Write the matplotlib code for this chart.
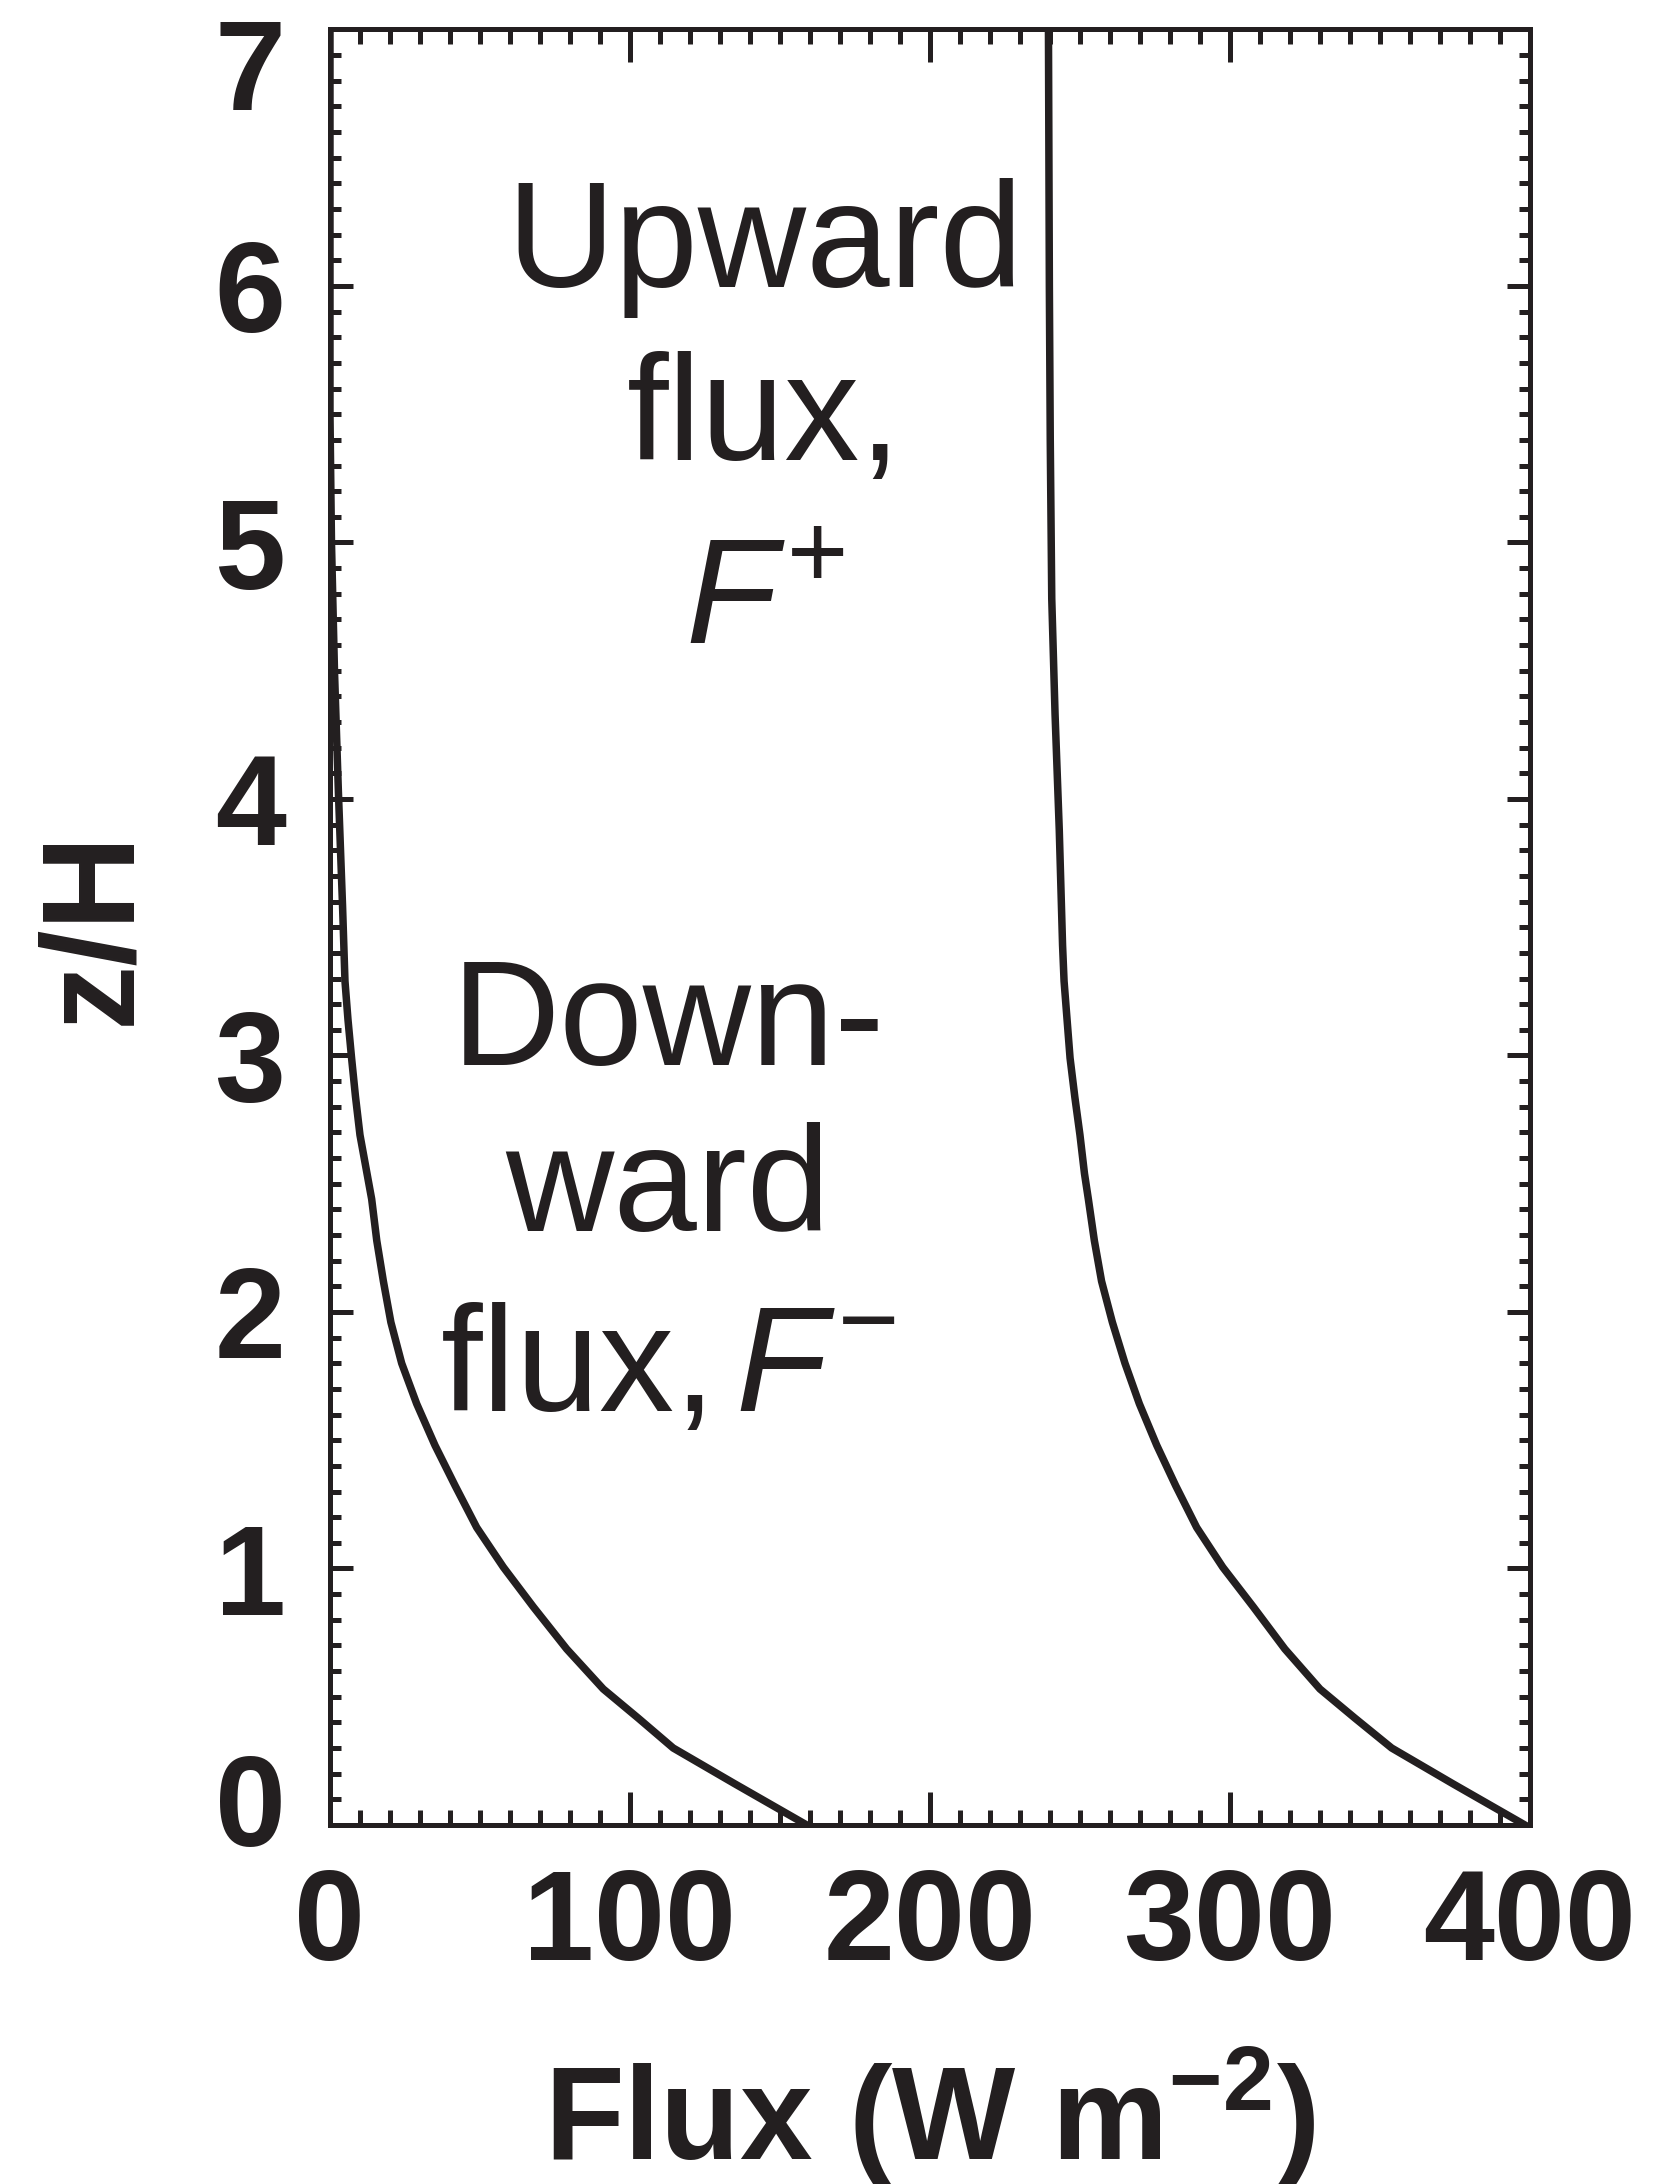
import matplotlib
matplotlib.use("Agg")
import matplotlib.pyplot as plt
from matplotlib.ticker import MultipleLocator
from matplotlib.transforms import ScaledTranslation

# data: height z/H and flux (W m-2)
z_up = [0, 0.16, 0.30, 0.416, 0.53, 0.686, 0.85, 1.005, 1.16, 1.323, 1.48,
        1.642, 1.80, 1.96, 2.12, 2.278, 2.44, 2.54, 2.69, 2.837, 2.99,
        3.29, 3.43, 3.88, 4.33, 4.78, 5.4, 6.0, 7.0]
flux_up = [398.3, 374.4, 353.9, 341.7, 330.0, 318.3, 307.8, 297.6, 288.9, 281.9,
           275.6, 269.8, 265.0, 260.8, 257.2, 254.8, 252.8, 251.5, 250.0, 248.3,
           246.7, 244.7, 244.2, 243.1, 241.7, 240.6, 240.1, 239.8, 239.5]

z_down = [0, 0.16, 0.30, 0.416, 0.53, 0.686, 0.85, 1.005, 1.16, 1.323, 1.48,
          1.642, 1.80, 1.96, 2.12, 2.278, 2.44, 2.69, 2.84, 2.99, 3.14,
          3.29, 3.58, 4.03, 4.5, 5.0, 5.5, 7.0]
flux_down = [158.9, 135.0, 114.4, 102.8, 91.1, 78.9, 67.8, 57.8, 48.9, 41.7,
             35.0, 28.9, 23.9, 20.3, 17.8, 15.6, 13.9, 10.0, 8.5, 7.2, 6.0,
             5.0, 4.2, 2.8, 1.5, 0.5, 0.0, 0.0]

x_ticks = [0, 100, 200, 300, 400]
y_ticks = [0, 1, 2, 3, 4, 5, 6, 7]

ink = '#231f20'
plt.rcParams['font.family'] = ['Liberation Sans', 'DejaVu Sans']
plt.rcParams['mathtext.fontset'] = 'custom'
plt.rcParams['mathtext.rm'] = 'Liberation Sans'
plt.rcParams['mathtext.it'] = 'Liberation Sans:italic'
plt.rcParams['mathtext.bf'] = 'Liberation Sans:bold'

fig = plt.figure(figsize=(8.27, 10.92), dpi=200)
ax = fig.add_axes([0.1995, 0.1644, 0.7255, 0.8221])

ax.plot(flux_up, z_up, color=ink, lw=2.7, solid_joinstyle='round')
ax.plot(flux_down, z_down, color=ink, lw=2.7, solid_joinstyle='round')

ax.set_xlim(0, 400)
ax.set_ylim(0, 7)
ax.set_xticks(x_ticks)
ax.set_yticks(y_ticks)
ax.xaxis.set_minor_locator(MultipleLocator(10))
ax.yaxis.set_minor_locator(MultipleLocator(0.1))

for s in ax.spines.values():
    s.set_linewidth(1.8)
    s.set_color(ink)

ax.tick_params(which='both', direction='in', top=True, right=True,
               color=ink, width=1.8, labelcolor=ink)
ax.tick_params(axis='x', which='major', length=12, pad=15, labelsize=46)
ax.tick_params(axis='x', which='minor', length=5.4)
ax.tick_params(axis='y', which='major', length=8.3, pad=16, labelsize=46)
ax.tick_params(axis='y', which='minor', length=4)
for lab in ax.get_xticklabels() + ax.get_yticklabels():
    lab.set_fontweight('bold')

# end labels on the y axis are pulled inside the frame
ylabs = ax.get_yticklabels()
ylabs[-1].set_transform(ylabs[-1].get_transform() +
                        ScaledTranslation(0, -34.5 / 200, fig.dpi_scale_trans))
ylabs[0].set_transform(ylabs[0].get_transform() +
                       ScaledTranslation(0, 25 / 200, fig.dpi_scale_trans))

ax.set_xlabel(r'Flux (W m$^{\mathbf{-2}}$)', fontsize=47, fontweight='bold', color=ink)
ax.xaxis.set_label_coords(0.5, -0.1226)
ax.set_ylabel('z/H', fontsize=47, fontweight='bold', color=ink)
ax.yaxis.set_label_coords(-0.145, 0.5)

# curve labels
up_lines = ['Upward', 'flux,', r'$F^{+}$']
up_y = [0.8568, 0.7604, 0.6579]
for t, yy in zip(up_lines, up_y):
    ax.text(0.362, yy, t, transform=ax.transAxes, ha='center', va='baseline',
            fontsize=54, color=ink)

down_lines = ['Down-', 'ward', r'flux,$\,F^{-}$']
down_y = [0.4234, 0.3309, 0.2306]
for t, yy in zip(down_lines, down_y):
    ax.text(0.2817, yy, t, transform=ax.transAxes, ha='center', va='baseline',
            fontsize=54, color=ink)

plt.savefig('out.png', dpi=200)
